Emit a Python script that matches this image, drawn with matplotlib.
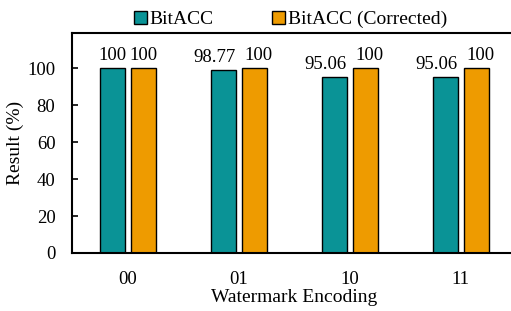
import numpy as np
import matplotlib.pyplot as plt

plt.rcParams['font.family'] = ['Liberation Serif', 'DejaVu Serif']

encodings = ['00', '01', '10', '11']
bitacc = [100, 98.77, 95.06, 95.06]
bitacc_corr = [100, 100, 100, 100]
bitacc_labels = ['100', '98.77', '95.06', '95.06']
corr_labels = ['100', '100', '100', '100']

fig = plt.figure(figsize=(5.11, 3.11), dpi=100)
ax = fig.add_axes([0.141, 0.1865, 0.869, 0.7075])

x = np.arange(len(encodings))
w = 0.225
ax.bar(x - 0.14, bitacc, w, color='#0a9396', edgecolor='black', linewidth=1, label='BitACC')
ax.bar(x + 0.14, bitacc_corr, w, color='#ee9b00', edgecolor='black', linewidth=1, label='BitACC (Corrected)')

# value labels; long teal labels nudged left so they don't collide
for i in range(len(encodings)):
    dx1 = -6 if len(bitacc_labels[i]) > 3 else 0
    dx2 = 3 if len(bitacc_labels[i]) > 3 else 0
    ax.annotate(bitacc_labels[i], (x[i] - 0.14, bitacc[i]), xytext=(dx1, 3),
                textcoords='offset points', ha='center', va='bottom', fontsize=13.5)
    ax.annotate(corr_labels[i], (x[i] + 0.14, bitacc_corr[i]), xytext=(dx2, 3),
                textcoords='offset points', ha='center', va='bottom', fontsize=13.5)

ax.set_xlim(-0.5, 3.5)
ax.set_ylim(0, 119)
ax.set_yticks([0, 20, 40, 60, 80, 100])
ax.set_xticks(x)
ax.set_xticklabels(encodings)
ax.tick_params(axis='y', direction='in', length=4, width=1.2, labelsize=13.5, pad=12)
ax.tick_params(axis='x', length=0, labelsize=13.5, pad=13)
for s in ax.spines.values():
    s.set_linewidth(1.5)
ax.set_xlabel('Watermark Encoding', fontsize=14, labelpad=1)
ax.set_ylabel('Result (%)', fontsize=14, labelpad=2)

ax.legend(loc='center', bbox_to_anchor=(0.492, 1.06), ncol=2, frameon=False,
          fontsize=14, handlelength=0.65, handleheight=0.65, handletextpad=0.15,
          columnspacing=3.0, borderaxespad=0)

fig.savefig('out.png', dpi=100)
